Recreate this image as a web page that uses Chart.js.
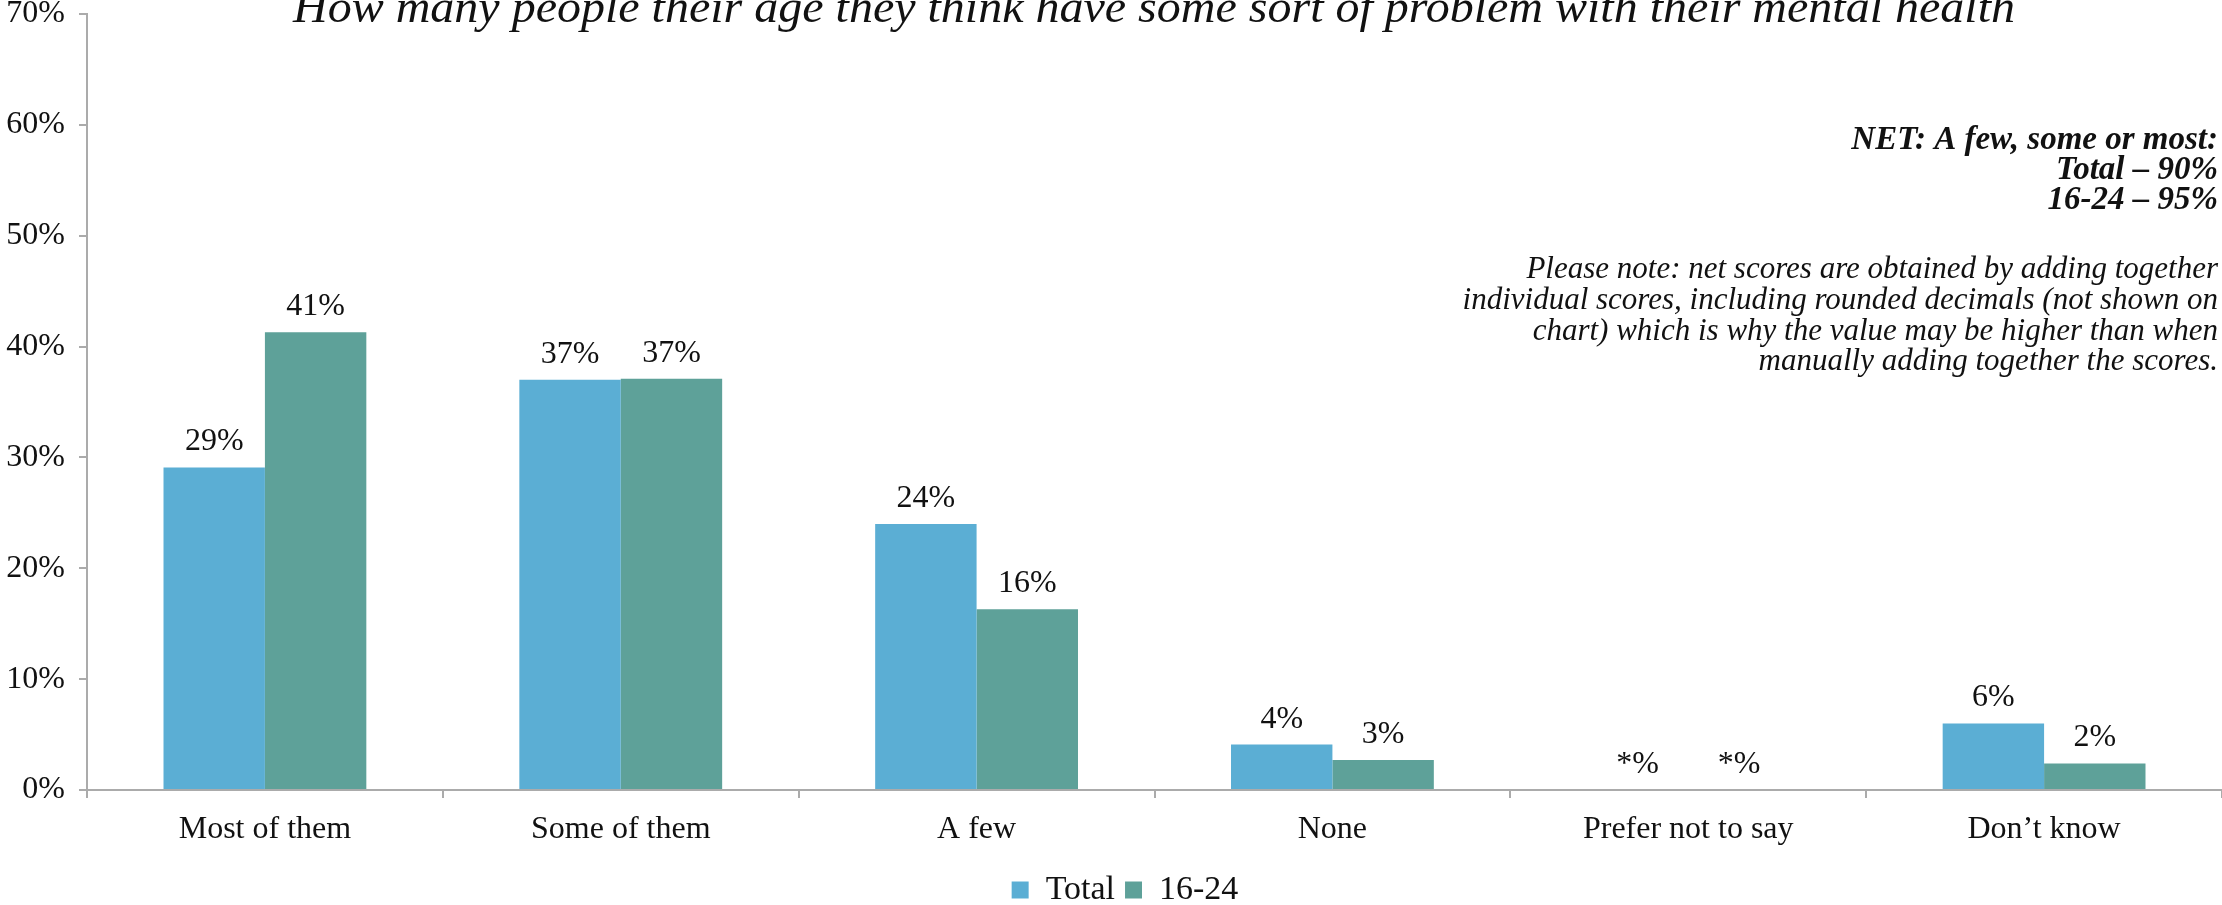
<!DOCTYPE html>
<html>
<head>
<meta charset="utf-8">
<script src="https://cdn.jsdelivr.net/npm/chart.js@4.4.1/dist/chart.umd.min.js"></script>
<style>
  html, body { margin: 0; padding: 0; background: #fff; }
  #wrap { width: 2222px; height: 905px; position: relative; }
</style>
</head>
<body>
<div id="wrap"><canvas id="chart" width="2222" height="905"></canvas></div>
<script>
const categories = ["Most of them", "Some of them", "A few", "None", "Prefer not to say", "Don\u2019t know"];
const totalValues = [29.1, 37.0, 24.0, 4.1, 0, 6.0];
const youngValues = [41.3, 37.1, 16.3, 2.7, 0, 2.4];
const totalLabels = ["29%", "37%", "24%", "4%", "*%", "6%"];
const youngLabels = ["41%", "37%", "16%", "3%", "*%", "2%"];
const seriesNames = ["Total", "16-24"];

const titleText = "How many people their age they think have some sort of problem with their mental health";
const netLines = ["NET: A few, some or most:", "Total \u2013 90%", "16-24 \u2013 95%"];
const noteLines = [
  "Please note: net scores are obtained by adding together",
  "individual scores, including rounded decimals (not shown on",
  "chart) which is why the value may be higher than when",
  "manually adding together the scores."
];

const SERIF = '"Liberation Serif", "DejaVu Serif", serif';
const axisGrey = "#ABABAB";

// value labels above each bar
const barLabels = {
  id: "barLabels",
  afterDatasetsDraw(chart) {
    const ctx = chart.ctx;
    ctx.save();
    ctx.font = "32px " + SERIF;
    ctx.fillStyle = "#111";
    ctx.textAlign = "center";
    ctx.textBaseline = "alphabetic";
    chart.data.datasets.forEach((ds, i) => {
      chart.getDatasetMeta(i).data.forEach((bar, j) => {
        ctx.fillText(ds.valueLabels[j], bar.x, bar.y - 17);
      });
    });
    ctx.restore();
  }
};

// nudge the legend a little to the right, as in the original
const legendShift = {
  id: "legendShift",
  afterLayout(chart) {
    if (chart.legend) {
      chart.legend.left += 14;
      chart.legend.right += 14;
    }
  }
};

// title (cut off at top like the original) and the notes on the right
const extraText = {
  id: "extraText",
  afterDraw(chart) {
    const ctx = chart.ctx;
    ctx.save();
    ctx.fillStyle = "#111";

    ctx.font = "italic 46px " + SERIF;
    let w = ctx.measureText(titleText).width;
    ctx.save();
    ctx.translate(1154, 10);
    ctx.scale(1722 / w, 1);
    ctx.textAlign = "center";
    ctx.fillText(titleText, 0, 0);
    ctx.restore();

    ctx.textAlign = "right";
    ctx.font = "italic bold 33px " + SERIF;
    netLines.forEach((t, i) => ctx.fillText(t, 2218, 140 + i * 30));

    ctx.font = "italic 31px " + SERIF;
    noteLines.forEach((t, i) => ctx.fillText(t, 2218, 270 + i * 30.7));
    ctx.restore();
  }
};

new Chart(document.getElementById("chart"), {
  type: "bar",
  data: {
    labels: categories,
    datasets: [
      {
        label: seriesNames[0],
        data: totalValues,
        valueLabels: totalLabels,
        backgroundColor: "#5BAED4",
        borderWidth: 0,
        categoryPercentage: 0.57,
        barPercentage: 1.0
      },
      {
        label: seriesNames[1],
        data: youngValues,
        valueLabels: youngLabels,
        backgroundColor: "#5EA199",
        borderWidth: 0,
        categoryPercentage: 0.57,
        barPercentage: 1.0
      }
    ]
  },
  options: {
    responsive: false,
    animation: false,
    devicePixelRatio: 1,
    layout: { padding: { top: 0, left: 0, right: 0, bottom: -12 } },
    plugins: {
      legend: {
        position: "bottom",
        labels: {
          font: { family: SERIF, size: 34 },
          color: "#111",
          boxWidth: 17,
          boxHeight: 17,
          padding: 10
        }
      },
      tooltip: { enabled: false }
    },
    scales: {
      x: {
        afterFit(scale) { scale.height = 73; },
        grid: {
          display: true,
          drawOnChartArea: false,
          drawTicks: true,
          tickLength: 8,
          color: axisGrey,
          lineWidth: 2,
          offset: true
        },
        border: { display: true, color: axisGrey, width: 2 },
        ticks: {
          font: { family: SERIF, size: 32 },
          color: "#111",
          padding: 12,
          maxRotation: 0,
          autoSkip: false
        }
      },
      y: {
        min: 0,
        max: 70,
        afterFit(scale) {
          scale.width = 87;
          scale.paddingTop = 14;
          scale.paddingBottom = 0;
        },
        grid: {
          display: true,
          drawOnChartArea: false,
          drawTicks: true,
          tickLength: 8,
          color: axisGrey,
          lineWidth: 2
        },
        border: { display: true, color: axisGrey, width: 2 },
        ticks: {
          stepSize: 10,
          font: { family: SERIF, size: 32, lineHeight: 1 },
          color: "#111",
          padding: 14,
          callback: (v) => v + "%"
        }
      }
    }
  },
  plugins: [barLabels, legendShift, extraText]
});
</script>
</body>
</html>
